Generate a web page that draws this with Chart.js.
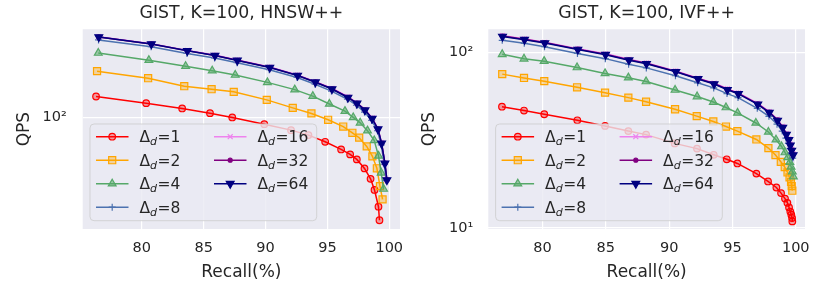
<!DOCTYPE html>
<html>
<head>
<meta charset="utf-8">
<script src="https://cdn.jsdelivr.net/npm/chart.js@4.4.0/dist/chart.umd.min.js"></script>
<style>
  html, body { margin: 0; padding: 0; background: #fff; }
  #wrap { position: relative; width: 830px; height: 285px; }
  canvas { position: absolute; top: 0; }
</style>
</head>
<body>
<div id="wrap">
  <canvas id="hnswChart" width="415" height="285" style="left:0"></canvas>
  <canvas id="ivfChart" width="415" height="285" style="left:415px"></canvas>
</div>
<script>
// legend entries / tick labels
const deltas = [1, 2, 4, 8, 16, 32, 64];
const xTicks = [80, 85, 90, 95, 100];
const hnswYTicks = [100];
const ivfYTicks = [10, 100];

// HNSW++ (left)
const hnswRecall1 = [76.30, 80.35, 83.26, 85.51, 87.31, 89.90, 92.06, 93.47, 94.82, 96.11, 96.84, 97.38, 98.00, 98.49, 98.81, 99.13, 99.21];
const hnswQps1 = [132.9, 121.4, 113.0, 106.0, 100.0, 91.3, 84.2, 78.7, 71.9, 64.8, 60.6, 56.6, 50.1, 43.5, 37.4, 29.8, 24.8];
const hnswRecall2 = [76.38, 80.51, 83.43, 85.64, 87.43, 90.10, 92.20, 93.71, 95.06, 96.28, 97.02, 97.57, 98.18, 98.64, 99.00, 99.25, 99.46];
const hnswQps2 = [187.3, 170.3, 152.8, 146.7, 141.5, 126.9, 113.9, 105.6, 96.9, 88.4, 81.2, 76.0, 67.5, 59.0, 50.2, 39.4, 32.9];
const hnswRecall4 = [76.48, 80.57, 83.54, 85.69, 87.55, 90.15, 92.36, 93.82, 95.16, 96.42, 97.09, 97.65, 98.24, 98.79, 99.13, 99.35, 99.54];
const hnswQps4 = [239.6, 217.3, 200.4, 188.5, 177.8, 160.9, 145.8, 133.5, 120.1, 108.9, 100.0, 93.0, 83.6, 73.2, 59.4, 47.2, 37.9];
const hnswRecall8 = [76.50, 80.75, 83.65, 85.88, 87.70, 90.30, 92.55, 94.00, 95.33, 96.62, 97.35, 98.00, 98.58, 99.05, 99.35, 99.60, 99.75];
const hnswQps8 = [286, 261, 238, 224, 210, 191, 172, 157, 143, 128, 118, 107.5, 96, 83.5, 69, 53, 42.5];
const hnswRecallHi = [76.52, 80.77, 83.68, 85.91, 87.72, 90.34, 92.59, 94.03, 95.37, 96.66, 97.39, 98.04, 98.62, 99.09, 99.38, 99.65, 99.81];
const hnswQps16 = [299, 272, 248, 233, 218, 198, 178, 162.5, 148.5, 132.5, 122, 111.5, 99.5, 86, 71, 54, 43];
const hnswQps32 = [298, 271, 247.5, 232, 217, 197.5, 177, 161.8, 147.5, 131.5, 121.3, 110.8, 98.8, 85.6, 70.6, 53.8, 42.9];
const hnswQps64 = [297.6, 270.6, 246.8, 231.6, 216.7, 196.9, 176.6, 161.3, 147.1, 131.1, 120.9, 110.4, 98.4, 85.3, 70.3, 53.6, 42.8];

// IVF++ (right)
const ivfRecall1 = [76.80, 78.54, 80.14, 82.75, 84.94, 86.78, 88.18, 90.44, 92.20, 93.52, 94.55, 95.39, 96.89, 97.81, 98.47, 98.84, 99.15, 99.34, 99.47, 99.57, 99.65, 99.71, 99.73];
const ivfQps1 = [49.0, 46.6, 44.4, 41.0, 38.1, 35.6, 34.0, 30.3, 28.3, 26.1, 24.6, 23.3, 20.4, 18.4, 17.0, 15.8, 14.7, 13.9, 13.1, 12.4, 11.9, 11.4, 10.9];
const ivfRecall2 = [76.82, 78.54, 80.14, 82.73, 84.94, 86.78, 88.18, 90.47, 92.18, 93.49, 94.49, 95.39, 96.89, 97.84, 98.40, 98.82, 99.13, 99.35, 99.51, 99.63, 99.68, 99.73];
const ivfQps2 = [75.1, 71.4, 68.5, 63.2, 58.9, 55.2, 52.3, 47.4, 43.3, 40.4, 37.8, 35.6, 31.9, 28.5, 26.0, 23.8, 22.2, 20.7, 19.4, 18.3, 17.3, 16.3];
const ivfRecall4 = [76.82, 78.54, 80.13, 82.73, 84.94, 86.78, 88.18, 90.47, 92.21, 93.49, 94.49, 95.40, 96.85, 97.84, 98.44, 98.88, 99.15, 99.37, 99.53, 99.63, 99.73, 99.81];
const ivfQps4 = [97.4, 91.8, 89.0, 81.9, 75.8, 71.7, 68.2, 61.0, 56.0, 52.1, 48.5, 45.2, 39.6, 35.2, 31.8, 29.1, 26.9, 25.2, 23.7, 22.3, 20.9, 19.6];
const ivfRecall8 = [76.82, 78.56, 80.16, 82.76, 84.96, 86.80, 88.20, 90.50, 92.25, 93.52, 94.57, 95.44, 96.96, 97.88, 98.52, 98.93, 99.22, 99.42, 99.55, 99.66, 99.76];
const ivfQps8 = [117, 112.5, 107.5, 98.5, 92, 85.5, 81.5, 73.5, 67, 62.7, 58.2, 55.2, 48, 43.2, 39, 35.6, 32.5, 30.3, 28.3, 26.5, 25.0];
const ivfRecallHi = [76.84, 78.58, 80.18, 82.79, 84.98, 86.83, 88.21, 90.53, 92.28, 93.55, 94.60, 95.47, 97.00, 97.91, 98.56, 98.97, 99.26, 99.45, 99.57, 99.68, 99.79];
const ivfQps16 = [124.5, 119.2, 114, 104.8, 98, 91.2, 87, 78.3, 71.3, 66.8, 62, 58.7, 51.2, 46, 41.5, 37.8, 34.4, 32.1, 29.9, 28.0, 26.4];
const ivfQps32 = [123.8, 118.5, 113.5, 104.2, 97.4, 90.7, 86.5, 77.8, 70.9, 66.4, 61.6, 58.3, 50.8, 45.7, 41.2, 37.5, 34.2, 31.9, 29.7, 27.8, 26.2];
const ivfQps64 = [123.0, 117.9, 112.9, 103.7, 96.9, 90.2, 86.0, 77.4, 70.5, 66.0, 61.2, 58.0, 50.5, 45.4, 40.9, 37.3, 34.0, 31.7, 29.5, 27.6, 26.0];

// styles per Δd
const lineColors = ["red", "orange", "#55A868", "#4C72B0", "violet", "purple", "navy"];
const markerFills = ["rgba(255,0,0,0.35)", "rgba(255,165,0,0.35)", "rgba(85,168,104,0.55)", "#4C72B0", "violet", "purple", "navy"];
const markerStyles = ["circle", "rect", "triangle", "cross", "crossRot", "circle", "triangle"];
const markerRadius = [3.3, 5, 4.5, 3.5, 3.5, 2, 4.5];
const markerRotation = [0, 0, 0, 0, 0, 0, 180];

const TEXT = "#262626";
const FONT = "'DejaVu Sans', sans-serif";

const toPoints = (xs, ys) => xs.map((x, i) => ({ x: x, y: ys[i] }));

// grey axes background
const bgPlugin = {
  id: "bg",
  beforeDraw(chart) {
    const { ctx, chartArea: a } = chart;
    ctx.save();
    ctx.fillStyle = "#EAEAF2";
    ctx.fillRect(a.left, a.top, a.right - a.left, a.bottom - a.top);
    ctx.restore();
  }
};

// matplotlib-like legend, 2 columns, inside lower left
const legendPlugin = {
  id: "mplLegend",
  afterDatasetsDraw(chart) {
    const { ctx, chartArea: a } = chart;
    const bx = a.left + 7.3, bw = 226.7, bh = 96.7;
    const by = a.bottom - 8.3 - bh;
    ctx.save();
    ctx.beginPath();
    ctx.roundRect(bx, by, bw, bh, 4);
    ctx.fillStyle = "rgba(234,234,242,0.8)";
    ctx.fill();
    ctx.strokeStyle = "rgba(204,204,204,0.8)";
    ctx.lineWidth = 1;
    ctx.stroke();

    const rows = [12.7, 36.2, 59.7, 83.2];
    chart.data.datasets.forEach((ds, i) => {
      const col = i < 4 ? 0 : 1;
      const row = i < 4 ? i : i - 4;
      const x0 = bx + (col === 0 ? 6 : 124);
      const y = by + rows[row];
      ctx.strokeStyle = ds.borderColor;
      ctx.lineWidth = 1.5;
      ctx.beginPath();
      ctx.moveTo(x0, y);
      ctx.lineTo(x0 + 32.5, y);
      ctx.stroke();
      ctx.fillStyle = ds.pointBackgroundColor;
      ctx.strokeStyle = ds.borderColor;
      ctx.lineWidth = 1.2;
      Chart.helpers.drawPoint(ctx, {
        pointStyle: ds.pointStyle, radius: ds.pointRadius,
        rotation: ds.pointRotation, borderWidth: 1.2
      }, x0 + 16.2, y);

      // text Δ_d=n
      let tx = x0 + 43.5;
      const base = y + 5.7;
      ctx.fillStyle = TEXT;
      ctx.font = "15.5px " + FONT;
      ctx.fillText("Δ", tx, base);
      tx += ctx.measureText("Δ").width;
      ctx.font = "italic 11px " + FONT;
      ctx.fillText("d", tx, base + 3);
      tx += ctx.measureText("d").width + 0.5;
      ctx.font = "15.5px " + FONT;
      ctx.fillText("=" + deltas[i], tx, base);
    });
    ctx.restore();
  }
};

function makeChart(id, opt) {
  const datasets = opt.series.map((s, i) => ({
    label: "Δd=" + deltas[i],
    data: toPoints(s[0], s[1]),
    borderColor: lineColors[i],
    backgroundColor: lineColors[i],
    borderWidth: 1.5,
    pointStyle: markerStyles[i],
    pointRadius: markerRadius[i],
    pointRotation: markerRotation[i],
    pointBackgroundColor: markerFills[i],
    pointBorderColor: lineColors[i],
    pointBorderWidth: 1.2,
    tension: 0,
    fill: false,
    order: 6 - i
  }));

  new Chart(document.getElementById(id).getContext("2d"), {
    type: "line",
    data: { datasets: datasets },
    options: {
      responsive: false,
      animation: false,
      devicePixelRatio: 1,
      layout: { padding: { left: 0, right: opt.rightPad, top: 0, bottom: 0 } },
      plugins: {
        legend: { display: false },
        tooltip: { enabled: false },
        title: {
          display: true,
          text: opt.title,
          fullSize: false,
          color: TEXT,
          font: { family: FONT, size: 17.3, weight: "normal" },
          padding: { top: 3.2, bottom: 5.3 }
        }
      },
      scales: {
        x: {
          type: "linear",
          min: opt.xMin,
          max: opt.xMax,
          afterBuildTicks: (scale) => { scale.ticks = xTicks.map(v => ({ value: v })); },
          afterFit: (scale) => { scale.height = 56; },
          grid: { color: "#fff", lineWidth: 1.2, drawTicks: false },
          border: { display: false },
          ticks: { color: TEXT, font: { family: FONT, size: 14.5 }, padding: 11, maxRotation: 0 },
          title: {
            display: true, text: "Recall(%)", color: TEXT,
            font: { family: FONT, size: 17 }, padding: { top: 0, bottom: 2.1 }
          }
        },
        y: {
          type: "logarithmic",
          min: opt.yMin,
          max: opt.yMax,
          afterBuildTicks: (scale) => { scale.ticks = opt.yTicks.map(v => ({ value: v })); },
          afterFit: (scale) => { scale.width = opt.yWidth; },
          grid: { color: "#fff", lineWidth: 1.2, drawTicks: false },
          border: { display: false },
          ticks: {
            color: TEXT, font: { family: FONT, size: 14.5 }, padding: opt.yTickPad,
            callback: (v) => (v === 100 ? "10²" : v === 10 ? "10¹" : "")
          },
          title: {
            display: true, text: "QPS", color: TEXT,
            font: { family: FONT, size: 17 }, padding: { top: opt.yTitlePad, bottom: 0 }
          }
        }
      }
    },
    plugins: [bgPlugin, legendPlugin]
  });
}

makeChart("hnswChart", {
  title: "GIST, K=100, HNSW++",
  series: [
    [hnswRecall1, hnswQps1], [hnswRecall2, hnswQps2], [hnswRecall4, hnswQps4],
    [hnswRecall8, hnswQps8], [hnswRecallHi, hnswQps16], [hnswRecallHi, hnswQps32],
    [hnswRecallHi, hnswQps64]
  ],
  xMin: 75.22, xMax: 100.87, yMin: 22.03, yMax: 330.7, yTicks: hnswYTicks,
  yWidth: 82.7, yTickPad: 16, yTitlePad: 14.8, rightPad: 15
});

makeChart("ivfChart", {
  title: "GIST, K=100, IVF++",
  series: [
    [ivfRecall1, ivfQps1], [ivfRecall2, ivfQps2], [ivfRecall4, ivfQps4],
    [ivfRecall8, ivfQps8], [ivfRecallHi, ivfQps16], [ivfRecallHi, ivfQps32],
    [ivfRecallHi, ivfQps64]
  ],
  xMin: 75.72, xMax: 100.73, yMin: 9.87, yMax: 135.2, yTicks: ivfYTicks,
  yWidth: 73.3, yTickPad: 15, yTitlePad: 4.8, rightPad: 25
});
</script>
</body>
</html>
